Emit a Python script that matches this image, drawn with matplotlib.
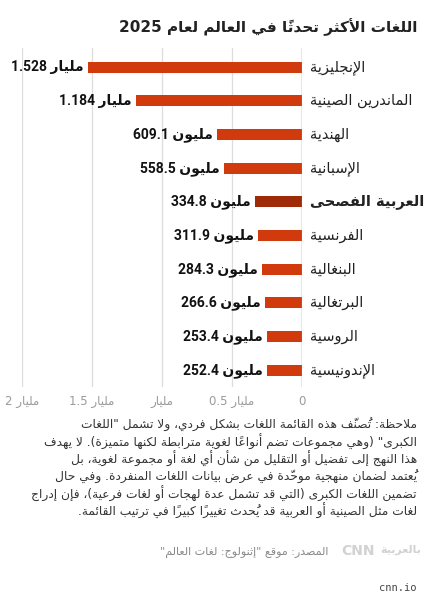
import re
import matplotlib
matplotlib.use("Agg")
import matplotlib.pyplot as plt

# --- minimal Arabic shaping + RTL ordering (matplotlib draws glyphs left to right) ---
AR_LETTERS = "ءآأؤإئابةتثجحخدذرزسشصضطظعغفقكلمنهوىي"
RIGHT_ONLY = "آأؤإادذرزوىة"
FORMS = {}
code = 0xFE80
for ch in AR_LETTERS:
    n = 1 if ch == "ء" else (2 if ch in RIGHT_ONLY else 4)
    FORMS[ch] = (code, n)
    code += n
LAM_ALEF = {"آ": 0xFEF5, "أ": 0xFEF7, "إ": 0xFEF9, "ا": 0xFEFB}
MARKS = set(chr(c) for c in range(0x064B, 0x0653))
MIRROR = {"(": ")", ")": "("}


def jtype(b):
    if b.startswith("LA") and len(b) == 3:
        return "R"
    if b in FORMS:
        return {1: "N", 2: "R", 4: "D"}[FORMS[b][1]]
    return None


def shape(seg):
    units = []
    for ch in seg:
        if ch in MARKS and units:
            units[-1][1] += ch
        else:
            units.append([ch, ""])
    merged = []
    i = 0
    while i < len(units):
        b, m = units[i]
        if b == "ل" and i + 1 < len(units) and units[i + 1][0] in LAM_ALEF:
            merged.append(["LA" + units[i + 1][0], m + units[i + 1][1]])
            i += 2
        else:
            merged.append([b, m])
            i += 1
    out = []
    for i, (b, m) in enumerate(merged):
        jt = jtype(b)
        if jt is None:
            out.append(m + b)
            continue
        prev = jtype(merged[i - 1][0]) if i > 0 else None
        nxt = jtype(merged[i + 1][0]) if i + 1 < len(merged) else None
        jp = prev == "D"
        jn = jt == "D" and nxt in ("D", "R")
        if b.startswith("LA"):
            g = chr(LAM_ALEF[b[2]] + (1 if jp else 0))
        else:
            base, n = FORMS[b]
            if n == 1:
                g = chr(base)
            elif n == 2:
                g = chr(base + (1 if jp else 0))
            else:
                g = chr(base + {(False, False): 0, (True, False): 1,
                                (False, True): 2, (True, True): 3}[(jp, jn)])
        # mark goes first so it is drawn over its base in left-to-right layout
        out.append(m + g)
    return out


def ar(text):
    tokens = []
    for part in re.split(r"(\d+(?:[.,]\d+)*)", text):
        if not part:
            continue
        if part[0].isdigit():
            tokens.append(part)
        else:
            tokens.extend(MIRROR.get(c, c) for c in shape(part))
    return "".join(reversed(tokens))


# --- data ---
languages = ["الإنجليزية", "الماندرين الصينية", "الهندية", "الإسبانية",
             "العربية الفصحى", "الفرنسية", "البنغالية", "البرتغالية",
             "الروسية", "الإندونيسية"]
speakers_bn = [1.528, 1.184, 0.6091, 0.5585, 0.3348, 0.3119, 0.2843,
               0.2666, 0.2534, 0.2524]
value_nums = ["1.528", "1.184", "609.1", "558.5", "334.8", "311.9",
              "284.3", "266.6", "253.4", "252.4"]
value_units = ["مليار", "مليار", "مليون", "مليون", "مليون", "مليون",
               "مليون", "مليون", "مليون", "مليون"]
highlight = "العربية الفصحى"
xticks = [0, 0.5, 1, 1.5, 2]
xtick_nums = ["0", "0.5", "", "1.5", "2"]
xtick_units = ["", "مليار", "مليار", "مليار", "مليار"]

title = "اللغات الأكثر تحدثًا في العالم لعام 2025"
note_lines = [
    'ملاحظة: تُصنّف هذه القائمة اللغات بشكل فردي، ولا تشمل "اللغات',
    'الكبرى" (وهي مجموعات تضم أنواعًا لغوية مترابطة لكنها متميزة). لا يهدف',
    'هذا النهج إلى تفضيل أو التقليل من شأن أي لغة أو مجموعة لغوية، بل',
    'يُعتمد لضمان منهجية موحّدة في عرض بيانات اللغات المنفردة. وفي حال',
    'تضمين اللغات الكبرى (التي قد تشمل عدة لهجات أو لغات فرعية)، فإن إدراج',
    'لغات مثل الصينية أو العربية قد يُحدث تغييرًا كبيرًا في ترتيب القائمة.',
]
source = 'المصدر: موقع "إثنولوج: لغات العالم"'

BAR = "#d13a0c"
BAR_HI = "#9e2a08"
W, H = 427, 600

plt.rcParams["font.family"] = ["DejaVu Sans"]
fig = plt.figure(figsize=(W / 100, H / 100), dpi=100)
ax = fig.add_axes([22 / W, 1 - 387 / H, 280 / W, 339 / H])

ypos = list(range(len(languages)))
colors = [BAR_HI if l == highlight else BAR for l in languages]
ax.barh(ypos, speakers_bn, height=0.33, color=colors, zorder=2)
ax.set_xlim(2.0, 0)
ax.set_ylim(9.5, -0.57)

ax.grid(axis="x", color="#dddddd", lw=0.9, zorder=0)
ax.axvline(0, color="#9a9a9a", lw=1.0, zorder=3)
for s in ax.spines.values():
    s.set_visible(False)
ax.set_yticks([])
ax.set_xticks(xticks, [(n + " " + ar(u)).strip() for n, u in zip(xtick_nums, xtick_units)])
ax.tick_params(axis="x", length=0, pad=6, labelsize=8.5, labelcolor="#9a9a9a")

ytr = ax.get_yaxis_transform()
for i, lang in enumerate(languages):
    ax.text(1.0286, i, ar(lang), transform=ytr, ha="left", va="center",
            fontsize=10.5, color="#222222",
            fontweight="bold" if lang == highlight else "normal")
    ax.annotate(value_nums[i] + " " + ar(value_units[i]), xy=(speakers_bn[i], i),
                xytext=(-3, 0), textcoords="offset points", ha="right",
                va="center", fontsize=10, fontweight="bold", color="#111111",
                family=["Roboto", "DejaVu Sans"])

fig.text(417 / W, 1 - 27 / H, ar(title), ha="right", va="center",
         fontsize=11, fontweight="bold", color="#222222")

for k, line in enumerate(note_lines):
    fig.text(417 / W, 1 - (425 + 17.2 * k) / H, ar(line), ha="right",
             va="center", fontsize=8.8, color="#333333")

fig.text(328 / W, 1 - 552 / H, ar(source), ha="right", va="center",
         fontsize=8, color="#8a8a8a")
fig.text(341 / W, 1 - 551 / H, "CNN", ha="left", va="center",
         fontsize=10, fontweight="bold", color="#d2d2d2")
fig.text(421 / W, 1 - 550 / H, ar("بالعربية"), ha="right", va="center",
         fontsize=8, fontweight="bold", color="#d2d2d2")
fig.text(417 / W, 1 - 588 / H, "cnn.io", ha="right", va="center",
         fontsize=7.5, family="DejaVu Sans Mono", color="#444444")

fig.savefig("out.png", dpi=100)
